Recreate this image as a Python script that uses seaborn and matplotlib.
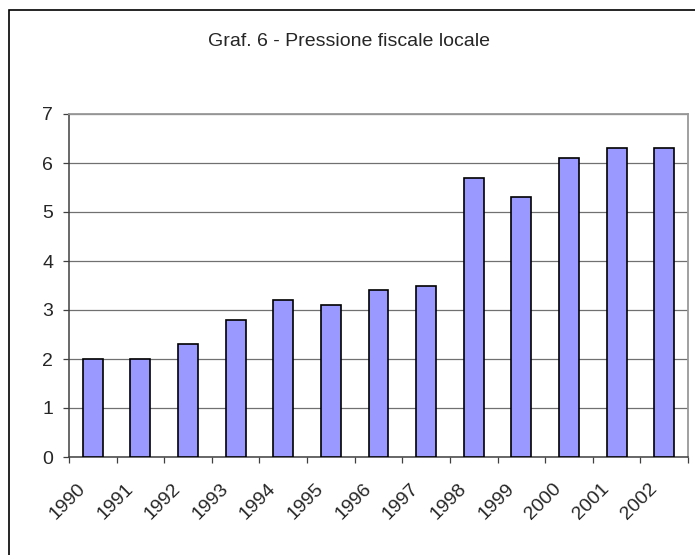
import numpy as np
import pandas as pd
import matplotlib
matplotlib.use("Agg")
import matplotlib.pyplot as plt
from matplotlib.patches import Rectangle
from matplotlib.transforms import ScaledTranslation
import seaborn as sns

# data
years = ["1990", "1991", "1992", "1993", "1994", "1995", "1996",
         "1997", "1998", "1999", "2000", "2001", "2002"]
pressione = [2.0, 2.0, 2.3, 2.8, 3.2, 3.1, 3.4, 3.5, 5.7, 5.3, 6.1, 6.3, 6.3]
title = "Graf. 6 - Pressione fiscale locale"

sns.set_style("white")
plt.rcParams['font.family'] = ['Liberation Sans', 'DejaVu Sans']

df = pd.DataFrame({"anno": years, "valore": pressione})

fig = plt.figure(figsize=(6.95, 5.55), dpi=100)
ax = fig.add_axes([69 / 695, 1 - 457 / 555, 619 / 695, 343 / 555])

sns.barplot(data=df, x="anno", y="valore", color="#9999FF", saturation=1,
            width=0.42, edgecolor="black", linewidth=1.2, ax=ax, zorder=3)

ax.set_xlim(-0.5, len(years) - 0.5)
ax.set_ylim(0, 7)
ax.set_yticks(range(0, 8))
ax.set_xlabel("")
ax.set_ylabel("")

# horizontal gridlines
ax.yaxis.grid(True, color="#707070", linewidth=0.9, zorder=0)
ax.set_axisbelow(True)

# tick styling
ax.tick_params(axis="y", length=4.5, width=0.9, color="#404040",
               labelsize=14, pad=7, left=True)
ax.set_xticks(np.arange(-0.5, len(years), 1), minor=True)
ax.tick_params(axis="x", which="minor", length=4, width=0.9,
               color="#404040", bottom=True)
ax.tick_params(axis="x", which="major", length=0, labelsize=14, pad=21)
shift = ScaledTranslation(-0.1, 0, fig.dpi_scale_trans)
for lab in ax.get_xticklabels():
    lab.set_rotation(45)
    lab.set_ha("right")
    lab.set_va("center")
    lab.set_rotation_mode("anchor")
    lab.set_transform(lab.get_transform() + shift)

for side in ["left", "bottom"]:
    ax.spines[side].set_color("#404040")
    ax.spines[side].set_linewidth(1.1)
for side in ["top", "right"]:
    ax.spines[side].set_visible(True)
    ax.spines[side].set_color("#999999")
    ax.spines[side].set_linewidth(1.3)

fig.text(0.502, 1 - 42 / 555, title, ha="center", va="center", fontsize=14)

# outer chart frame (runs off the right and bottom edges)
fig.patches.append(Rectangle((9 / 695, -0.1), 1.2, 1.1 - 10 / 555,
                             transform=fig.transFigure, fill=False,
                             edgecolor="black", linewidth=1.2))

fig.savefig("out.png", dpi=100)
